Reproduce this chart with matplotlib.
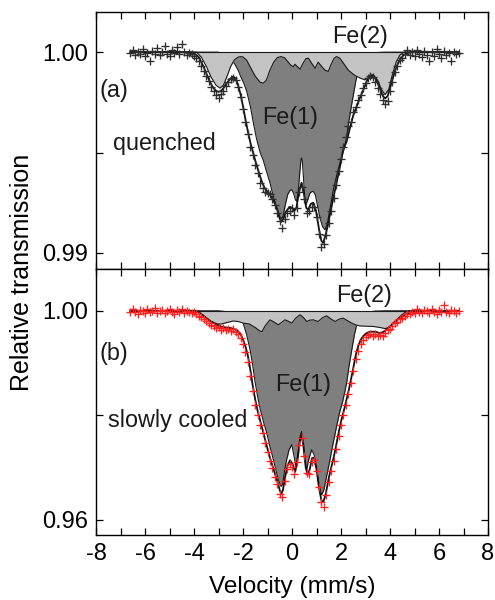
import numpy as np
import matplotlib
matplotlib.use("Agg")
import matplotlib.pyplot as plt
from matplotlib.ticker import MultipleLocator, FixedLocator

plt.rcParams['font.family'] = ['Liberation Sans', 'DejaVu Sans']

# ---------------- data (absorption depth in units of 1e-3, T = 1 - depth/1000) -------------
# measured channels: velocity from -6.6 mm/s in steps of 0.1 mm/s
vel_start = -6.6
vel_step = 0.1

quenched_data_depth = [
    0.05, -0.1, 0.15, 0.0, 0.1, -0.15, 0.2, 0.05, 0.45, -0.05,
    0.1, -0.2, 0.15, 0.0, -0.3, 0.1, 0.2, -0.1, 0.05, -0.25,
    0.1, -0.4, 0.0, 0.15, 0.05, 0.1, 0.2, 0.3, 0.45, 0.7,
    0.95, 1.2, 1.45, 1.75, 1.95, 2.15, 2.3, 2.1, 1.95, 1.7,
    1.5, 1.35, 1.3, 1.4, 1.75, 2.25, 2.85, 3.5, 4.1, 4.7,
    5.1, 5.6, 6.0, 6.5, 6.75, 6.95, 7.0, 7.05, 7.3, 7.6,
    8.0, 8.4, 8.75, 8.3, 8.0, 7.9, 7.75, 8.1, 7.75, 6.95,
    6.7, 7.3, 8.0, 7.9, 7.7, 7.7, 8.2, 9.05, 9.7, 9.55,
    9.1, 8.5, 7.9, 7.25, 6.6, 5.9, 5.3, 4.7, 4.25, 3.7,
    3.5, 3.0, 2.75, 2.4, 2.15, 1.8, 1.55, 1.3, 1.2, 1.25,
    1.5, 1.8, 2.1, 2.4, 2.6, 2.45, 1.95, 1.5, 1.0, 0.7,
    0.4, 0.3, 0.1, -0.11, 0.15, 0.0, 0.2, -0.1, 0.1, 0.25,
    -0.05, 0.15, 0.45, 0.0, 0.2, -0.15, 0.1, 0.3, -0.05, 0.15,
    0.05, 0.45, 0.0, 0.1, 0.05,
]

cooled_data_depth = [
    0.3, -0.4, 0.2, 0.6, -0.2, 0.1, 0.5, -0.3, 0.3, 0.0,
    -0.5, 0.4, 0.1, -0.2, 0.5, 0.0, -0.4, 0.3, 0.6, -0.1,
    0.2, -0.3, 0.4, 0.1, 0.3, 0.5, 0.2, 0.6, 0.9, 1.2,
    1.6, 1.9, 2.4, 2.8, 2.9, 3.3, 3.1, 3.6, 3.3, 3.7,
    3.4, 3.8, 3.5, 4.1, 4.4, 5.2, 6.3, 7.9, 9.8, 12.5,
    15.4, 18.0, 20.0, 21.9, 23.4, 25.3, 27.0, 28.7, 30.1, 31.8,
    33.2, 35.1, 35.7, 32.6, 30.3, 29.4, 29.8, 31.2, 29.0, 25.6,
    24.3, 27.8, 31.0, 31.2, 29.0, 28.5, 30.6, 33.8, 36.5, 37.6,
    35.3, 32.8, 30.7, 28.8, 26.4, 24.0, 21.8, 19.9, 18.1, 16.0,
    13.9, 11.6, 9.3, 7.6, 6.3, 5.6, 5.0, 4.7, 4.5, 4.8,
    4.4, 4.9, 4.7, 4.8, 4.3, 3.7, 3.5, 2.9, 2.4, 2.1,
    1.6, 1.3, 1.0, 0.6, 0.7, 0.2, 0.4, -0.3, 0.2, 0.5,
    -0.2, 0.1, 0.4, -0.3, 0.2, 0.6, -0.1, 0.3, -1.1, 0.2,
    0.5, -0.2, 0.1, 0.4, 0.0,
]

# ---- (a) quenched: total fit, Fe(1), Fe(2) curves (velocity, depth) ----
q_fit_v = [-6.6, -4.2, -4.1, -4.0, -3.9, -3.8, -3.7, -3.6, -3.5, -3.4, -3.3, -3.2, -3.1, -3.0,
           -2.9, -2.8, -2.7, -2.6, -2.5, -2.4, -2.3, -2.2, -2.1, -2.0, -1.9, -1.8, -1.7, -1.6,
           -1.5, -1.4, -1.3, -1.2, -1.1, -1.0, -0.9, -0.8, -0.7, -0.6, -0.5, -0.43, -0.35, -0.25,
           -0.1, 0.0, 0.1, 0.18, 0.28, 0.39, 0.48, 0.58, 0.66, 0.77, 0.87, 0.98, 1.1, 1.2, 1.27,
           1.35, 1.45, 1.54, 1.68, 1.82, 1.95, 2.09, 2.23, 2.37, 2.5, 2.64, 2.78, 2.91, 3.05, 3.2,
           3.3, 3.45, 3.6, 3.72, 3.8, 3.9, 4.0, 4.14, 4.27, 4.41, 4.55, 4.7, 4.85, 6.8]
q_fit_d = [0, 0, 0.02, 0.05, 0.15, 0.25, 0.5, 0.75, 1.05, 1.35, 1.6, 1.8, 1.92, 1.98,
           1.93, 1.8, 1.6, 1.45, 1.3, 1.22, 1.3, 1.65, 2.1, 2.7, 3.35, 3.95, 4.5, 4.95,
           5.4, 5.8, 6.2, 6.55, 6.8, 6.95, 7.1, 7.3, 7.55, 7.85, 8.3, 8.45, 8.3, 7.95,
           7.7, 7.75, 7.9, 7.75, 7.0, 6.5, 7.0, 7.75, 7.85, 7.55, 7.5, 7.9, 8.8, 9.4, 9.5,
           9.2, 8.7, 8.15, 7.3, 6.5, 5.75, 4.85, 4.45, 3.75, 3.15, 2.7, 2.25, 1.88, 1.45, 1.15,
           1.15, 1.4, 1.85, 2.2, 2.3, 2.2, 1.8, 1.2, 0.7, 0.38, 0.15, 0.05, 0, 0]

q_fe1_v = [-6.6, -3.0, -2.6, -2.33, -2.2, -2.1, -1.95, -1.85, -1.7, -1.58, -1.45, -1.3, -1.17,
           -1.05, -0.9, -0.8, -0.69, -0.58, -0.49, -0.43, -0.36, -0.29, -0.18, -0.08, -0.01,
           0.07, 0.14, 0.19, 0.25, 0.31, 0.36, 0.39, 0.42, 0.47, 0.52, 0.57, 0.63, 0.72, 0.8,
           0.87, 0.95, 1.05, 1.15, 1.25, 1.35, 1.45, 1.55, 1.69, 1.85, 2.03, 2.15, 2.22, 2.3,
           2.45, 2.61, 2.75, 2.9, 3.1, 3.4, 3.8, 6.8]
q_fe1_d = [0, 0, 0.2, 0.6, 0.9, 1.2, 1.6, 1.95, 2.7, 3.5, 4.3, 5.0, 5.4,
           5.9, 6.5, 7.0, 7.5, 7.95, 8.2, 8.3, 8.15, 7.7, 7.1, 6.88, 6.85,
           7.05, 7.35, 7.43, 7.0, 6.1, 5.4, 5.27, 5.4, 6.3, 7.2, 7.6, 7.4, 7.05, 6.95,
           6.94, 7.1, 7.7, 8.3, 8.7, 8.85, 8.5, 7.8, 6.85, 6.0, 5.2, 4.7, 4.3, 3.6,
           2.5, 1.4, 0.7, 0.3, 0.1, 0.02, 0, 0]

q_fe2_v = [-6.6, -3.9, -3.7, -3.5, -3.3, -3.1, -2.94, -2.8, -2.65, -2.5, -2.35, -2.2, -2.1,
           -2.0, -1.85, -1.7, -1.5, -1.3, -1.17, -1.05, -0.9, -0.75, -0.6, -0.45, -0.3, -0.15,
           -0.05, 0.05, 0.12, 0.2, 0.33, 0.45, 0.57, 0.67, 0.8, 0.94, 1.07, 1.2, 1.35, 1.48,
           1.6, 1.72, 1.82, 1.95, 2.1, 2.3, 2.5, 2.64, 2.8, 2.97, 3.15, 3.32, 3.5, 3.65, 3.8,
           3.95, 4.1, 4.25, 4.4, 4.5, 4.6, 6.8]
q_fe2_d = [0, 0, 0.25, 0.7, 1.25, 1.65, 1.79, 1.65, 1.2, 0.7, 0.38, 0.25, 0.22,
           0.24, 0.4, 0.75, 1.2, 1.5, 1.54, 1.4, 0.9, 0.5, 0.27, 0.22, 0.28, 0.5,
           0.65, 0.72, 0.6, 0.7, 0.85, 0.55, 0.32, 0.3, 0.55, 0.8, 0.5, 0.7, 0.9, 0.96,
           0.6, 0.3, 0.22, 0.3, 0.55, 0.9, 1.1, 1.21, 1.3, 1.38, 1.25, 1.13, 1.4, 1.85, 2.12,
           1.85, 1.1, 0.5, 0.15, 0.05, 0, 0]

# ---- (b) slowly cooled ----
c_fit_v = [-6.6, -4.0, -3.9, -3.8, -3.7, -3.6, -3.5, -3.4, -3.3, -3.2, -3.1, -3.0, -2.9, -2.8,
           -2.7, -2.6, -2.5, -2.4, -2.3, -2.2, -2.1, -2.0, -1.9, -1.8, -1.7, -1.6, -1.5, -1.4,
           -1.3, -1.2, -1.1, -1.0, -0.9, -0.8, -0.7, -0.6, -0.5, -0.44, -0.37, -0.28, -0.18,
           -0.08, 0.02, 0.13, 0.22, 0.32, 0.39, 0.46, 0.56, 0.64, 0.72, 0.82, 0.9, 1.0, 1.1,
           1.2, 1.28, 1.38, 1.5, 1.6, 1.7, 1.8, 1.9, 2.0, 2.1, 2.2, 2.3, 2.4, 2.5, 2.6, 2.7,
           2.8, 2.9, 3.0, 3.1, 3.2, 3.4, 3.5, 3.6, 3.7, 3.8, 3.9, 4.0, 4.1, 4.2, 4.3, 4.4,
           4.5, 4.6, 4.7, 4.8, 4.9, 5.0, 5.1, 5.2, 6.8]
c_fit_d = [0, 0, 0.1, 0.35, 0.6, 1.0, 1.4, 1.75, 2.1, 2.35, 2.6, 2.8, 3.0, 3.1,
           3.2, 3.25, 3.3, 3.45, 3.6, 3.95, 4.45, 5.5, 6.8, 8.6, 11.3, 14.4, 17.0, 19.2,
           21.0, 22.8, 24.6, 26.4, 28.1, 29.6, 31.1, 32.6, 34.3, 35.0, 34.3, 31.8, 29.6,
           28.6, 29.3, 30.8, 28.8, 25.0, 23.8, 25.6, 30.0, 31.3, 30.4, 28.2, 28.1, 30.3, 33.8,
           36.3, 36.6, 35.0, 32.0, 30.0, 28.1, 25.8, 23.4, 21.2, 19.4, 17.5, 15.5, 13.3, 11.0, 8.5, 6.8,
           5.6, 4.9, 4.4, 4.15, 4.0, 4.0, 4.15, 4.3, 4.1, 3.8, 3.4, 3.0, 2.55, 2.1, 1.75, 1.4,
           1.1, 0.8, 0.6, 0.4, 0.25, 0.15, 0.05, 0, 0]

c_fe1_v = [-6.6, -3.0, -2.6, -2.3, -2.1, -1.99, -1.85, -1.71, -1.6, -1.51, -1.4, -1.3, -1.15,
           -1.03, -0.9, -0.76, -0.65, -0.56, -0.45, -0.38, -0.3, -0.22, -0.12, -0.01, 0.07,
           0.16, 0.25, 0.33, 0.39, 0.45, 0.53, 0.6, 0.68, 0.8, 0.9, 1.0, 1.1, 1.21, 1.3, 1.42,
           1.55, 1.68, 1.82, 1.95, 2.06, 2.15, 2.23, 2.33, 2.44, 2.55, 2.64, 2.75, 2.9, 3.1,
           3.4, 3.8, 6.8]
c_fe1_d = [0, 0, 0.2, 0.6, 1.4, 2.4, 4.6, 7.5, 10.5, 13.5, 16.5, 18.8, 21.5,
           23.4, 26.0, 28.5, 30.6, 32.3, 33.6, 33.2, 30.5, 28.5, 26.6, 25.6, 27.5,
           29.8, 27.0, 24.0, 23.1, 24.5, 28.5, 30.4, 28.5, 26.6, 27.5, 30.0, 33.0, 35.2, 34.3, 31.5,
           28.5, 25.3, 22.1, 19.3, 17.5, 15.6, 13.8, 10.5, 7.46, 4.5, 2.7, 1.5, 0.7, 0.25,
           0.05, 0, 0]

c_fe2_v = [-6.6, -3.95, -3.76, -3.5, -3.3, -3.05, -2.9, -2.7, -2.4, -2.2, -1.99, -1.75, -1.5,
           -1.3, -1.22, -1.1, -0.9, -0.75, -0.56, -0.42, -0.29, -0.15, -0.01, 0.15, 0.33, 0.47,
           0.6, 0.72, 0.87, 0.97, 1.07, 1.25, 1.41, 1.6, 1.76, 1.92, 2.09, 2.27, 2.44, 2.6,
           2.78, 3.05, 3.33, 3.6, 3.8, 3.95, 4.1, 4.27, 4.45, 4.6, 4.75, 4.9, 6.8]
c_fe2_d = [0, 0, 0.45, 1.3, 2.0, 2.5, 2.55, 2.3, 1.95, 2.05, 2.35, 2.5, 3.2,
           3.9, 3.96, 2.9, 1.72, 2.1, 2.68, 2.2, 1.72, 2.0, 2.36, 1.4, 0.77, 1.3,
           2.04, 1.8, 1.72, 1.9, 2.04, 1.3, 0.95, 1.6, 2.04, 1.6, 1.4, 1.9, 2.36, 2.7,
           2.9, 2.95, 3.0, 3.2, 3.4, 3.2, 2.6, 1.72, 0.9, 0.35, 0.05, 0, 0]

x_ticks = [-8, -6, -4, -2, 0, 2, 4, 6, 8]
q_yticks = [0.99, 1.00]
c_yticks = [0.96, 1.00]


def trans(depth):
    return 1.0 - np.asarray(depth, dtype=float) / 1000.0


fig = plt.figure(figsize=(4.95, 6.0), dpi=100)
W, H = 495.0, 600.0
ax1 = fig.add_axes([96 / W, 1 - 269 / H, 392 / W, 257 / H])
ax2 = fig.add_axes([96 / W, 1 - 535 / H, 392 / W, 266 / H])

panels = [
    (ax1, quenched_data_depth, q_fit_v, q_fit_d, q_fe1_v, q_fe1_d, q_fe2_v, q_fe2_d,
     '#2e2e2e', (0.9892, 1.0020), q_yticks, [0.995]),
    (ax2, cooled_data_depth, c_fit_v, c_fit_d, c_fe1_v, c_fe1_d, c_fe2_v, c_fe2_d,
     '#ff2020', (0.9571, 1.0080), c_yticks, [0.98]),
]

for (ax, data_d, fv, fd, e1v, e1d, e2v, e2d, dcol, ylim, yt, ymt) in panels:
    vel = vel_start + vel_step * np.arange(len(data_d))
    # Fe(1) subspectrum (dark)
    ax.fill_between(e1v, 1.0, trans(e1d), color='#7f7f7f', lw=0, zorder=1)
    ax.plot(e1v, trans(e1d), color='#1a1a1a', lw=0.8, zorder=1.5)
    # Fe(2) subspectrum (light, on top)
    ax.fill_between(e2v, 1.0, trans(e2d), color='#c3c3c3', lw=0, zorder=2)
    ax.plot(e2v, trans(e2d), color='#1a1a1a', lw=0.8, zorder=2.5)
    ax.plot([e2v[0], e2v[-1]], [1.0, 1.0], color='#1a1a1a', lw=0.8, zorder=2.5)
    # total fit
    ax.plot(fv, trans(fd), color='#111111', lw=1.3, zorder=3)
    # data
    ax.plot(vel, trans(data_d), ls='none', marker='+', ms=6.3, mew=0.95,
            color=dcol, zorder=4)

    ax.set_xlim(-8, 8)
    ax.set_ylim(*ylim)
    ax.xaxis.set_major_locator(FixedLocator(x_ticks))
    ax.xaxis.set_minor_locator(MultipleLocator(1))
    ax.yaxis.set_major_locator(FixedLocator(yt))
    ax.yaxis.set_minor_locator(FixedLocator(ymt))
    ax.set_yticklabels(['%.2f' % t for t in yt])
    ax.tick_params(which='both', direction='in', top=True, right=True,
                   length=5, width=0.9, labelsize=17, pad=6)
    for s in ax.spines.values():
        s.set_linewidth(1.0)

ax1.tick_params(labelbottom=False)
ax2.set_xticklabels(['%d' % t for t in x_ticks])

# annotations
txt = dict(fontsize=16.8, color='#1a1a1a')
ax1.text(0.673, 0.903, 'Fe(2)', transform=ax1.transAxes, ha='center', va='center', **txt)
ax1.text(0.010, 0.696, '(a)', transform=ax1.transAxes, ha='left', va='center', **txt)
ax1.text(0.495, 0.591, 'Fe(1)', transform=ax1.transAxes, ha='center', va='center', **txt)
ax1.text(0.043, 0.490, 'quenched', transform=ax1.transAxes, ha='left', va='center', **txt)

ax2.text(0.684, 0.902, 'Fe(2)', transform=ax2.transAxes, ha='center', va='center', **txt)
ax2.text(0.010, 0.684, '(b)', transform=ax2.transAxes, ha='left', va='center', **txt)
ax2.text(0.528, 0.564, 'Fe(1)', transform=ax2.transAxes, ha='center', va='center', **txt)
ax2.text(0.031, 0.432, 'slowly cooled', transform=ax2.transAxes, ha='left', va='center', **txt)

fig.text(292 / W, 1 - 587 / H, 'Velocity (mm/s)', ha='center', va='center', fontsize=17.6)
fig.text(22 / W, 1 - 272 / H, 'Relative transmission', ha='center', va='center',
         rotation=90, fontsize=18)

fig.savefig('out.png', dpi=100)
